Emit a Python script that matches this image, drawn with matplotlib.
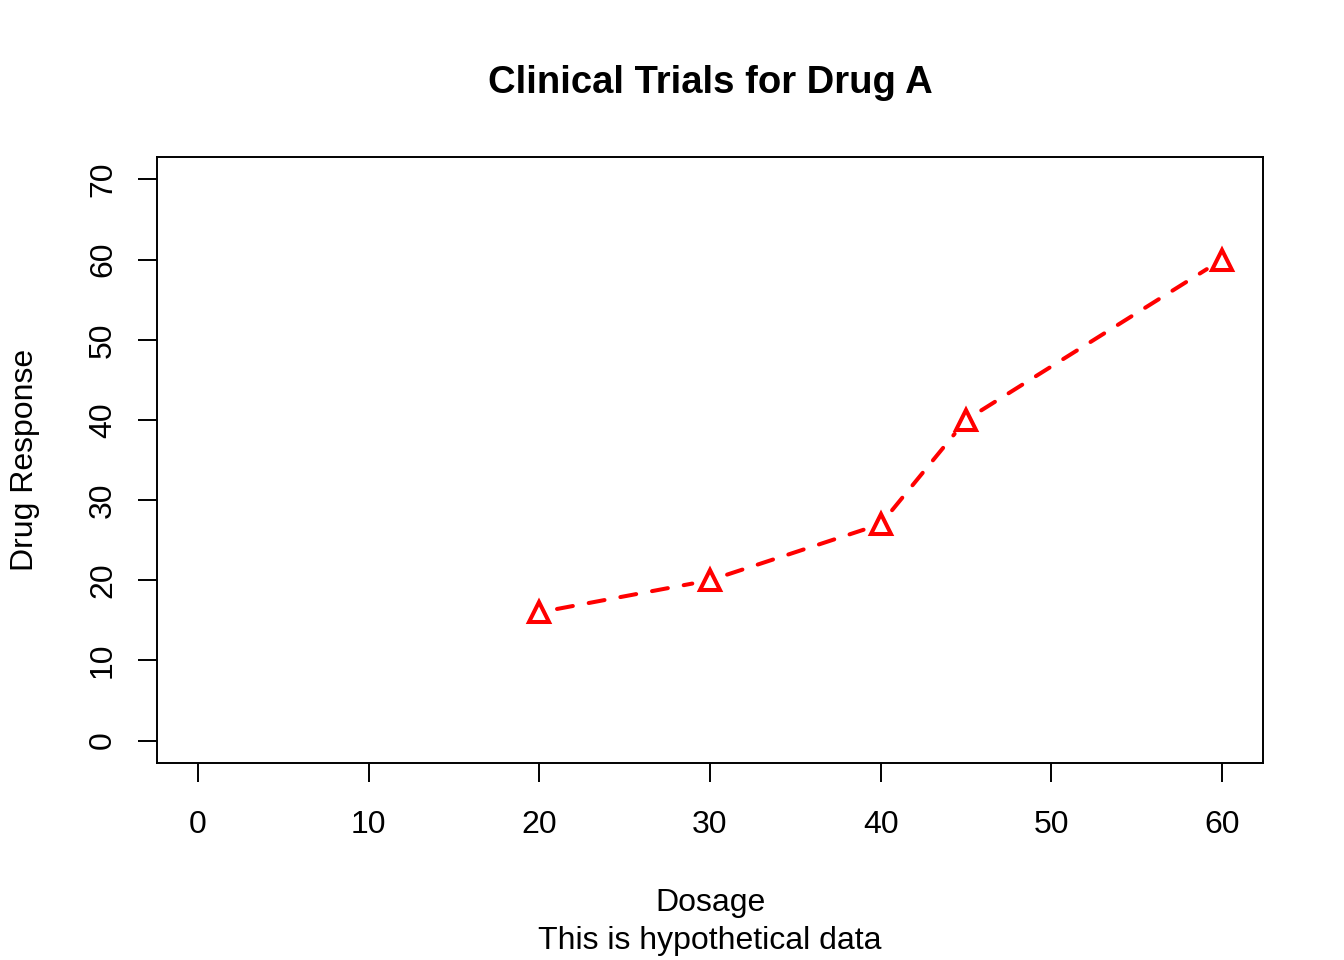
import matplotlib
matplotlib.use("Agg")
import numpy as np
import matplotlib.pyplot as plt

dose = [20, 30, 40, 45, 60]
drug_a = [16, 20, 27, 40, 60]
x_ticks = [0, 10, 20, 30, 40, 50, 60]
y_ticks = [0, 10, 20, 30, 40, 50, 60, 70]

plt.rcParams['font.family'] = ['Liberation Sans', 'DejaVu Sans']

fig = plt.figure(figsize=(13.44, 9.6), dpi=100)
ax = fig.add_axes([157 / 1344, 197 / 960, 1106 / 1344, 606 / 960])

# R-style 4% padding around the data ranges
ax.set_xlim(-2.4, 62.4)
ax.set_ylim(-2.8, 72.8)

# type="b": line segments stop short of each point
gap = 18  # pixels
pts = ax.transData.transform(np.column_stack([dose, drug_a]))
inv = ax.transData.inverted()
for p0, p1 in zip(pts[:-1], pts[1:]):
    d = p1 - p0
    u = d / np.hypot(*d)
    seg = inv.transform(np.array([p0 + u * gap, p1 - u * gap]))
    ax.plot(seg[:, 0], seg[:, 1], color='red', linewidth=2.9, dashes=(4, 4),
            dash_capstyle='round', solid_capstyle='round')

ax.plot(dose, drug_a, linestyle='none', marker='^', markersize=14,
        markerfacecolor='none', markeredgecolor='red', markeredgewidth=2.9)

ax.set_xticks(x_ticks)
ax.set_yticks(y_ticks)
ax.tick_params(axis='both', direction='out', length=14, width=1.4, labelsize=23)
ax.tick_params(axis='x', pad=20)
ax.tick_params(axis='y', pad=14)
for lbl in ax.get_yticklabels():
    lbl.set_rotation(90)
    lbl.set_va('center')
for s in ax.spines.values():
    s.set_linewidth(1.4)

fig.text(710 / 1344, 1 - 83 / 960, "Clinical Trials for Drug A",
         ha='center', va='center', fontsize=27.5, fontweight='bold')
fig.text(710 / 1344, 1 - 903 / 960, "Dosage", ha='center', va='center', fontsize=23)
fig.text(710 / 1344, 1 - 941 / 960, "This is hypothetical data",
         ha='center', va='center', fontsize=23)
fig.text(25 / 1344, 1 - 460 / 960, "Drug Response", ha='center', va='center',
         rotation=90, fontsize=23)

fig.savefig("out.png", dpi=100)
